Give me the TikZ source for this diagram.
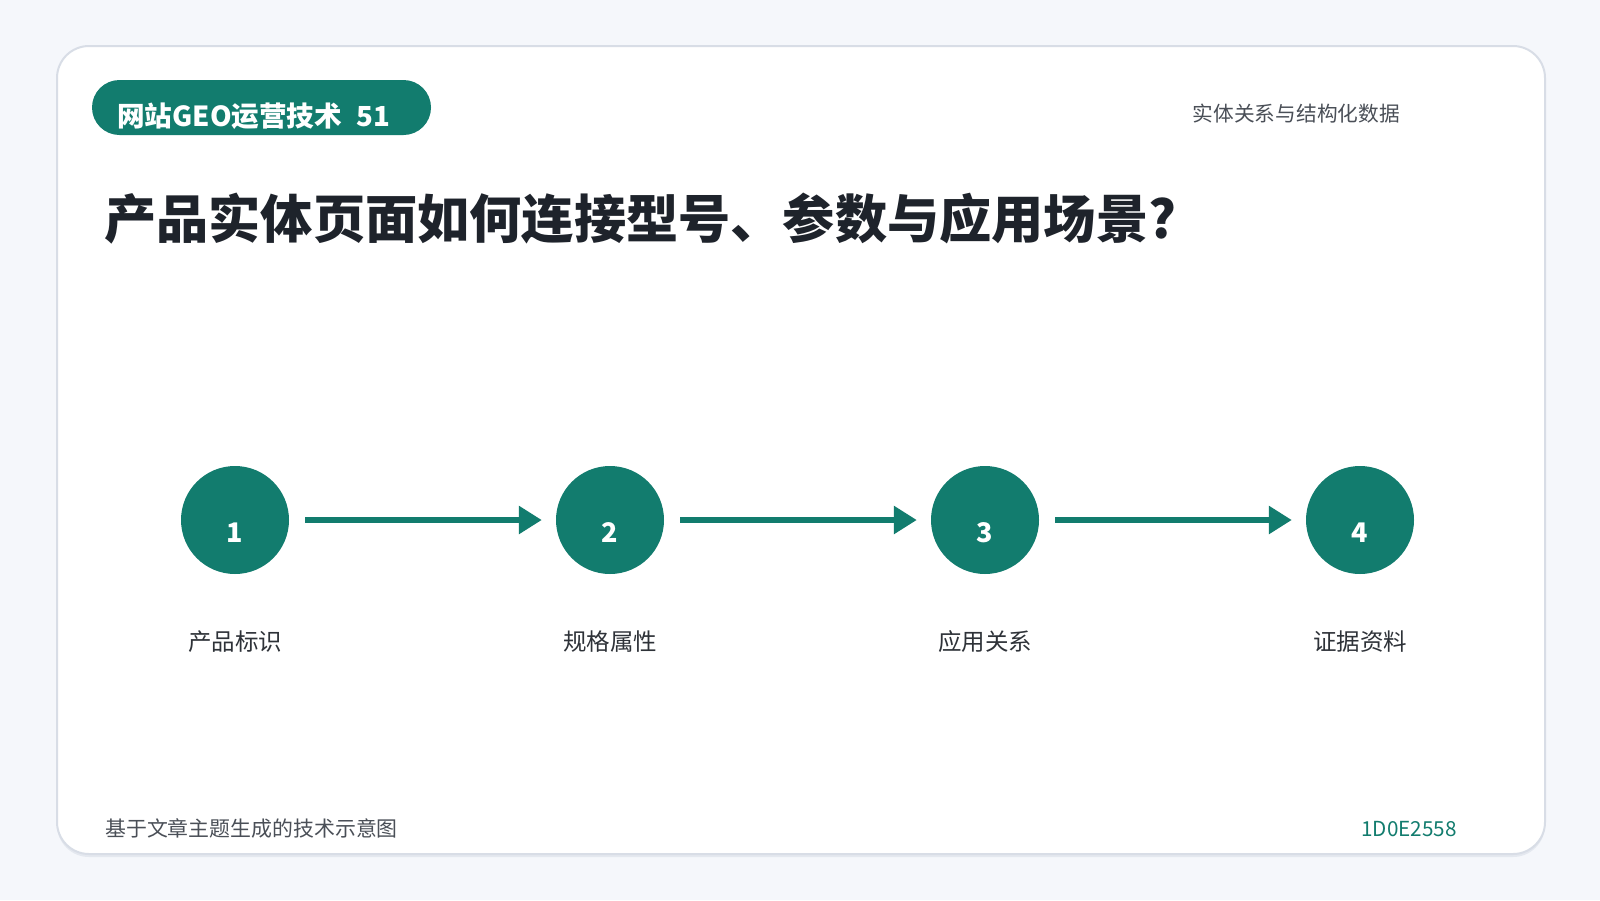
\documentclass[tikz,border=0pt]{standalone}
\usepackage{fontspec}
\setmainfont{Noto Sans CJK SC}
\usetikzlibrary{arrows.meta}
\definecolor{bg}{HTML}{F5F7FB}
\definecolor{cardborder}{HTML}{D8DDE6}
\definecolor{cardshadow}{HTML}{E4E8EF}
\definecolor{teal}{RGB}{18,124,110}
\definecolor{titlec}{HTML}{1E232B}
\definecolor{graytext}{HTML}{4A4F57}
\definecolor{labeltext}{HTML}{2E3238}
\tikzset{
  stepcircle/.style={circle, fill=teal, draw=none, minimum size=108pt, inner sep=0pt},
  stepnum/.style={anchor=base, text=white, font=\fontsize{27}{30}\selectfont\bfseries, inner sep=0pt},
  steplabel/.style={anchor=base, text=labeltext, font=\fontsize{23.5}{28}\selectfont, inner sep=0pt},
  flowarrow/.style={draw=teal, line width=6pt, -{Triangle[length=23pt,width=27pt]}, shorten <=16pt, shorten >=14pt},
}
\begin{document}
\begin{tikzpicture}[x=1pt,y=-1pt]
\useasboundingbox (0,0) rectangle (1600,900);
\fill[bg] (0,0) rectangle (1600,900);
% card
\fill[cardshadow, rounded corners=32pt] (57,49) rectangle (1545,857);
\draw[cardborder, fill=white, line width=2pt, rounded corners=32pt] (57,46) rectangle (1545,854);
% pill
\fill[teal, rounded corners=27.5pt] (92,80) rectangle (431,135);
\node[anchor=base west, inner sep=0pt, text=white, font=\fontsize{27.6}{30}\selectfont\bfseries] (pill) at (117,126) {网站GEO运营技术\hspace{8pt} 51};
% header right
\node[anchor=base east, inner sep=0pt, text=graytext, font=\fontsize{20.7}{24}\selectfont] (topic) at (1400,121) {实体关系与结构化数据};
% title
\node[anchor=base west, inner sep=0pt, text=titlec, font=\fontsize{52.2}{60}\selectfont\bfseries] (title) at (104,238) {产品实体页面如何连接型号、参数与应用场景?};
% steps
\node[stepcircle] (c1) at (235,520) {};
\node[stepcircle] (c2) at (610,520) {};
\node[stepcircle] (c3) at (985,520) {};
\node[stepcircle] (c4) at (1360,520) {};
\node[stepnum] (n1) at (235,542) {1};
\node[stepnum] (n2) at (610,542) {2};
\node[stepnum] (n3) at (985,542) {3};
\node[stepnum] (n4) at (1360,542) {4};
\draw[flowarrow] (c1) -- (c2);
\draw[flowarrow] (c2) -- (c3);
\draw[flowarrow] (c3) -- (c4);
\node[steplabel] (l1) at (235,650) {产品标识};
\node[steplabel] (l2) at (610,650) {规格属性};
\node[steplabel] (l3) at (985,650) {应用关系};
\node[steplabel] (l4) at (1360,650) {证据资料};
% footer
\node[anchor=base west, inner sep=0pt, text=graytext, font=\fontsize{20.9}{24}\selectfont] (foot) at (105,836) {基于文章主题生成的技术示意图};
\node[anchor=base east, inner sep=0pt, text=teal, font=\fontsize{20.7}{24}\selectfont] (code) at (1457,836) {1D0E2558};
\end{tikzpicture}
\end{document}
